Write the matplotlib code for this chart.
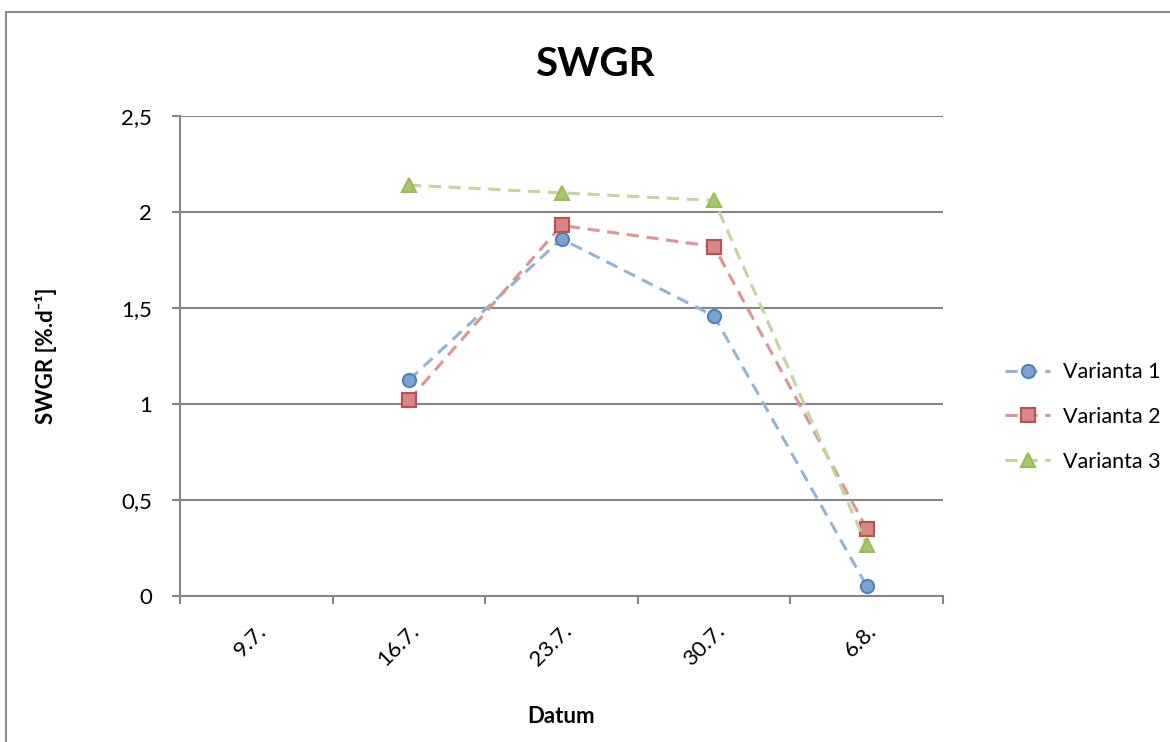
import matplotlib.pyplot as plt
from matplotlib.patches import Rectangle

plt.rcParams['font.family'] = ['Lato', 'DejaVu Sans']

# data
dates = ["9.7.", "16.7.", "23.7.", "30.7.", "6.8."]
varianta1 = [None, 1.125, 1.86, 1.458, 0.052]
varianta2 = [None, 1.02, 1.93, 1.82, 0.35]
varianta3 = [None, 2.14, 2.10, 2.06, 0.266]
y_ticks = [0, 0.5, 1, 1.5, 2, 2.5]
y_labels = ["0", "0,5", "1", "1,5", "2", "2,5"]

fig = plt.figure(figsize=(11.7, 7.42), dpi=100)
ax = fig.add_axes([180 / 1170, 1 - 596 / 742, (943 - 180) / 1170, (596 - 116) / 742])

# outer frame of the chart
fig.patches.append(Rectangle((6 / 1170, -0.05), 1.1, 1 - 12 / 742 + 0.05,
                             transform=fig.transFigure, fill=False,
                             edgecolor='#8c8c8c', linewidth=1.5))

styles = [
    ("Varianta 1", varianta1, 'o', '#4F81BD', '#95B3D7', '#7fa3d1'),
    ("Varianta 2", varianta2, 's', '#C0504D', '#DA9694', '#d58885'),
    ("Varianta 3", varianta3, '^', '#9BBB59', '#C3D69B', '#a9c66b'),
]

x = list(range(len(dates)))
for name, vals, mk, edge, line, face in styles:
    xs = [i for i, v in zip(x, vals) if v is not None]
    ys = [v for v in vals if v is not None]
    ax.plot(xs, ys, linestyle=(0, (4, 2.5)), color=line, linewidth=2.2,
            marker=mk, markersize=10 if mk != 'o' else 9.5,
            markerfacecolor=face, markeredgecolor=edge, markeredgewidth=1.5,
            label=name, zorder=3)

ax.set_xlim(-0.5, 4.5)
ax.set_ylim(0, 2.5)
ax.set_yticks(y_ticks)
ax.set_yticklabels(y_labels, fontsize=16)
ax.yaxis.grid(True, color='#868686', linewidth=1.5)
ax.set_axisbelow(True)

ax.set_xticks(x)
ax.set_xticklabels(dates, rotation=45, ha='right', rotation_mode='anchor', fontsize=16)
ax.set_xticks([i - 0.5 for i in range(len(dates) + 1)], minor=True)
ax.tick_params(axis='x', which='major', length=0, pad=18)
ax.tick_params(axis='x', which='minor', length=6, width=1.5, color='#868686', direction='out')
ax.tick_params(axis='y', length=6, width=1.5, color='#868686', direction='out', pad=14)

for s in ['top', 'right']:
    ax.spines[s].set_visible(False)
for s in ['left', 'bottom']:
    ax.spines[s].set_color('#868686')
    ax.spines[s].set_linewidth(1.5)

# title is centred on the whole chart, not the plot area
fig.text(595 / 1170, 1 - 65 / 742, "SWGR", fontsize=29, fontweight='bold',
         ha='center', va='center')
ax.set_xlabel("Datum", fontsize=16, fontweight='bold', labelpad=26)
ax.set_ylabel("SWGR [%.d\u207b\u00b9]", fontsize=16, fontweight='bold', labelpad=46)

ax.legend(loc='center left', bbox_to_anchor=(1.0 + 62 / 763, (596 - 417) / 480), frameon=False,
          fontsize=15.5, handlelength=2.1, handletextpad=0.6, labelspacing=1.15,
          borderpad=0, borderaxespad=0)

fig.savefig("out.png", dpi=100)
